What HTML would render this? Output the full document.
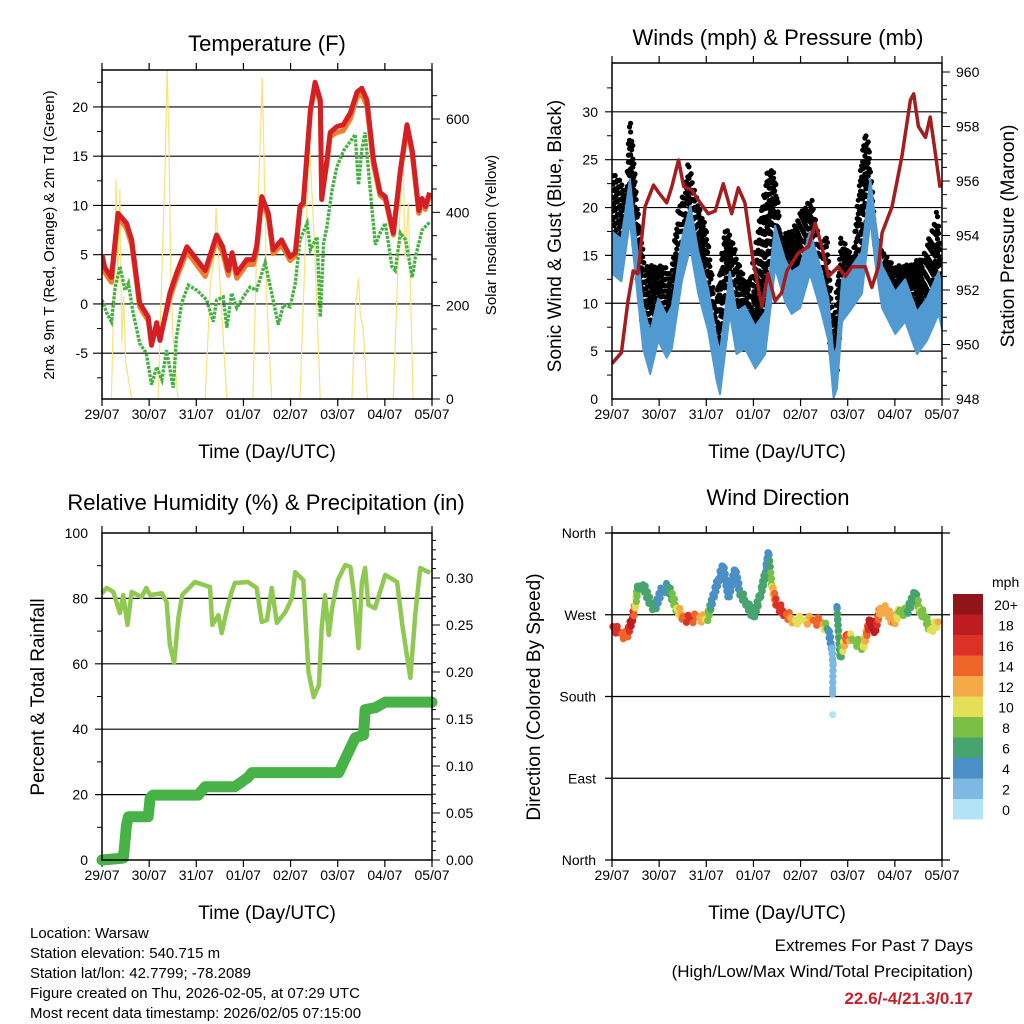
<!DOCTYPE html>
<html><head><meta charset="utf-8"><style>
html,body{margin:0;padding:0;background:#fff;}
svg{display:block;font-family:"Liberation Sans",Arial,sans-serif;}
</style></head><body>
<svg id="chart" width="1024" height="1024" viewBox="0 0 1024 1024" xmlns="http://www.w3.org/2000/svg">
<rect x="0" y="0" width="1024" height="1024" fill="#fff"/>
<g id="layer"></g>
<g font-size="22" text-anchor="middle" fill="#000">
<text x="267" y="51">Temperature (F)</text>
<text x="778" y="45">Winds (mph) &amp; Pressure (mb)</text>
<text x="266" y="510">Relative Humidity (%) &amp; Precipitation (in)</text>
<text x="778" y="505">Wind Direction</text>
</g>
<g font-size="19" text-anchor="middle">
<text x="267" y="458">Time (Day/UTC)</text>
<text x="777" y="458">Time (Day/UTC)</text>
<text x="267" y="919">Time (Day/UTC)</text>
<text x="777" y="919">Time (Day/UTC)</text>
<text transform="translate(54,235) rotate(-90)" font-size="15">2m &amp; 9m T (Red, Orange) &amp; 2m Td (Green)</text>
<text transform="translate(496,235) rotate(-90)" font-size="15">Solar Insolation (Yellow)</text>
<text transform="translate(561,236) rotate(-90)">Sonic Wind &amp; Gust (Blue, Black)</text>
<text transform="translate(1014,236) rotate(-90)">Station Pressure (Maroon)</text>
<text transform="translate(44,697) rotate(-90)">Percent &amp; Total Rainfall</text>
<text transform="translate(540,697) rotate(-90)">Direction (Colored By Speed)</text>
</g>
<g font-size="15">
<text x="30" y="938">Location: Warsaw</text>
<text x="30" y="958">Station elevation: 540.715 m</text>
<text x="30" y="978">Station lat/lon: 42.7799; -78.2089</text>
<text x="30" y="998">Figure created on Thu, 2026-02-05, at 07:29 UTC</text>
<text x="30" y="1018">Most recent data timestamp: 2026/02/05 07:15:00</text>
</g>
<g font-size="17" text-anchor="end">
<text x="973" y="951">Extremes For Past 7 Days</text>
<text x="973" y="977">(High/Low/Max Wind/Total Precipitation)</text>
<text x="973" y="1004" fill="#c8202a" font-weight="bold">22.6/-4/21.3/0.17</text>
</g>
</svg>
<script>
// ---------- data ----------
const dayLabels = ["29/07","30/07","31/07","01/07","02/07","03/07","04/07","05/07"];
const tempDays = [0,0.06,0.2,0.34,0.52,0.63,0.8,0.98,1.05,1.16,1.23,1.44,1.58,1.8,2.19,2.43,2.56,2.68,2.76,2.86,3.07,3.21,3.28,3.39,3.53,3.63,3.81,3.99,4.1,4.2,4.27,4.42,4.52,4.63,4.66,4.77,4.84,4.98,5.12,5.27,5.41,5.51,5.62,5.76,5.9,6.01,6.18,6.33,6.47,6.58,6.72,6.79,6.86,6.95];
const tempRed = [5.0,3.7,2.7,9.2,8.2,6.5,0.1,-1.3,-4.2,-1.9,-3.7,1.1,3.1,5.8,3.4,7.0,5.8,3.4,5.2,3.1,4.5,4.5,5.8,10.9,9.2,5.5,6.5,4.8,5.2,9.9,10.3,19.7,22.5,20.7,10.6,14.6,17.4,18.0,18.2,19.4,21.5,21.9,20.7,14.6,11.3,10.9,7.2,13.6,18.2,15.6,9.5,10.7,9.9,11.3];
const tempOrange = [4.6,3.2,2.2,8.8,7.7,6.0,-0.3,-1.7,-4.0,-2.3,-3.4,0.6,2.6,5.3,2.8,6.5,5.2,2.9,4.7,2.6,4.0,4.0,5.3,10.6,8.7,5.1,6.0,4.4,4.9,9.7,10.1,19.5,22.2,20.4,10.9,14.2,17.0,17.4,17.6,18.8,21.0,21.3,20.1,14.1,11.0,10.6,7.0,13.3,17.9,15.2,9.2,10.4,9.6,11.0];
const dewDays = [0,0.1,0.2,0.28,0.38,0.49,0.56,0.66,0.8,0.94,1.05,1.16,1.27,1.37,1.51,1.58,1.69,1.83,2.01,2.22,2.36,2.43,2.57,2.65,2.75,2.86,3.0,3.14,3.28,3.46,3.6,3.74,3.85,3.99,4.1,4.2,4.35,4.42,4.56,4.63,4.7,4.77,4.87,4.98,5.13,5.3,5.37,5.44,5.51,5.58,5.72,5.8,5.9,6.01,6.15,6.22,6.33,6.44,6.58,6.65,6.79,6.95];
const dewVals = [0.4,-0.9,-1.8,1.7,3.8,1.4,2.1,-0.9,-4.0,-5.0,-8.2,-6.4,-7.7,-4.7,-8.5,-3.4,0.1,1.9,1.4,0.4,-1.8,0.4,0.7,-2.4,1.1,-0.4,0.7,1.7,1.4,4.2,1.1,-2.1,-0.1,-0.3,2.1,6.5,8.2,5.5,6.8,-1.3,6.2,7.8,11.3,13.9,15.6,16.7,17.2,12.1,15.6,17.4,9.9,6.0,7.2,8.2,3.8,3.4,7.2,6.5,2.7,4.8,7.5,8.3];
const solarDays = [0,0.2,0.27,0.3,0.34,0.38,0.42,0.46,0.5,0.63,0.7,1.19,1.28,1.34,1.38,1.42,1.46,1.5,1.61,1.7,2.19,2.3,2.38,2.42,2.5,2.65,2.7,3.2,3.3,3.36,3.4,3.44,3.5,3.6,3.7,4.2,4.32,4.4,4.45,4.52,4.63,4.7,5.3,5.38,5.44,5.48,5.54,5.63,5.7,6.18,6.3,6.38,6.43,6.5,6.6,7];
const solarVals = [0,0,300,470,250,450,120,220,80,0,0,0,300,500,710,560,260,150,0,0,0,250,300,409,250,0,0,0,400,560,688,500,200,0,0,0,350,555,450,300,0,0,0,200,259,180,150,0,0,0,350,555,300,420,0,0];
const windDays = [0,0.2,0.38,0.55,0.66,0.81,0.98,1.16,1.27,1.48,1.66,1.83,2.04,2.22,2.29,2.5,2.64,2.82,3.04,3.25,3.46,3.67,3.81,3.99,4.2,4.45,4.59,4.7,4.77,4.88,5.09,5.3,5.48,5.6,5.73,6.01,6.22,6.47,6.68,6.93,7];
const windVals = [15.3,14.5,20.8,12.7,7.5,4.8,8.3,6.5,7.5,14.5,18.0,13.2,9.3,4.1,2.7,11.1,6.9,7.5,5.4,6.9,15.9,12.4,11.1,11.7,15.3,11.1,8.3,2.3,3.3,10.3,11.7,13.2,20.8,15.9,11.7,9.0,10.3,6.9,8.3,11.1,9.5];
const gustDays = [0,0.3,0.38,0.45,0.55,0.7,0.9,1.1,1.25,1.4,1.55,1.62,1.8,2.0,2.2,2.4,2.55,2.7,2.9,3.1,3.3,3.45,3.6,3.85,4.05,4.25,4.45,4.55,4.7,4.85,5.1,5.35,5.45,5.6,5.8,6.0,6.3,6.6,6.8,6.9,7];
const gustVals = [24,22,30,26,20,14,14,14,13,20,22,25,21,18,10,18,17,14,12,18,24,24,17,18,20,21,15,18,8,17,15,28,27,17,15,14,14,15,18,20,14];
const pressDays = [0,0.2,0.34,0.45,0.55,0.7,0.88,0.98,1.16,1.27,1.41,1.52,1.69,1.83,2.04,2.19,2.36,2.54,2.68,2.82,2.99,3.18,3.31,3.46,3.6,3.71,3.95,4.17,4.31,4.45,4.59,4.8,4.95,5.09,5.37,5.51,5.65,5.73,5.94,6.15,6.33,6.4,6.5,6.65,6.75,6.86,6.96];
const pressVals = [949.3,949.7,951.6,952.7,952.6,955.05,955.85,955.6,955.2,955.8,956.77,955.8,955.67,955.3,954.8,954.9,955.9,954.8,955.75,955.2,953.1,951.4,952.6,951.6,951.9,952.7,953.35,953.6,954.45,953.6,952.5,952.85,952.5,952.85,952.85,952.1,952.85,954.1,955.05,956.9,958.97,959.2,958.0,957.6,958.35,957.0,955.75];
const rhDays = [0,0.1,0.24,0.38,0.45,0.54,0.63,0.84,0.94,1.02,1.27,1.37,1.44,1.53,1.62,1.7,1.97,2.29,2.34,2.47,2.54,2.65,2.75,2.82,3.1,3.28,3.39,3.5,3.6,3.71,3.89,4.03,4.1,4.27,4.38,4.49,4.6,4.66,4.73,4.81,4.88,5.0,5.16,5.27,5.34,5.44,5.51,5.58,5.65,5.79,6.01,6.26,6.37,6.54,6.65,6.75,6.96];
const rhVals = [81.6,83.2,82,75.5,81,71.9,82,80.4,83.2,81,81.6,78.9,65.7,60.2,74,81,85,83.5,71.9,74.9,69.4,76.5,82,84.7,85,83.2,72.8,73.4,83.2,72.5,75.8,80.1,88,85.6,57.5,49.8,53.5,71,81,68.8,77,85.6,90.2,89.6,82,64.8,84.7,89.3,78,77,87.2,85,71.9,55.7,75.8,89.3,87.8];
const rainDays = [0,0.45,0.47,0.52,0.56,0.98,1.02,1.08,2.04,2.19,2.82,3.1,3.18,5.02,5.37,5.55,5.58,5.8,6.01,7];
const rainVals = [0,0.002,0.011,0.037,0.046,0.046,0.066,0.069,0.069,0.078,0.078,0.088,0.093,0.093,0.13,0.133,0.16,0.162,0.168,0.168];
const dirDays = [0.02,0.17,0.31,0.42,0.49,0.55,0.66,0.81,0.91,1.05,1.19,1.37,1.51,1.65,1.82,2.01,2.15,2.25,2.36,2.47,2.61,2.72,2.86,3.0,3.14,3.25,3.32,3.39,3.49,3.67,3.85,4.06,4.27,4.45,4.59,4.66,4.69,4.68,4.68,4.77,4.81,4.84,4.98,5.12,5.33,5.47,5.58,5.69,5.83,5.97,6.11,6.25,6.43,6.53,6.64,6.75,6.92];
const dirVals = [257,250,246,264,279,301,303,283,277,297,301,277,268,264,268,264,290,308,323,290,319,294,283,268,290,315,338,301,281,272,264,264,264,261,253,235,217,185,160,279,246,224,248,242,235,264,253,277,275,261,275,272,294,275,268,253,262];
const dirSpeeds = [16,16,14,20,12,7,7,6,7,4,6,10,15,17,14,11,4,4,5,6,5,6,6,6,6,7,4,10,17,16,12,11,14,15,6,4,2,2,0,5,8,6,16,8,10,19,20,12,13,14,9,8,6,10,9,10,12];
const speedLevels = ["0","2","4","6","8","10","12","14","16","18","20+"];
const speedColors = ["#b3e3f7","#7db9e3","#4a8fc6","#48a46f","#7ac046","#e3e057","#f5a947","#ef6428","#db3127","#bd1c22","#8f1519"];

// ---------- helpers ----------
const NS="http://www.w3.org/2000/svg";
const layer=document.getElementById('layer');
function mk(tag,attrs,name,parent){
  const el=document.createElementNS(NS,tag);
  for(const k in attrs) el.setAttribute(k,attrs[k]);
  
  
  (parent||layer).appendChild(el);
  return el;
}
function txt(x,y,s,anchor,size,name,parent){
  const t=mk('text',{x:x,y:y,'text-anchor':anchor,'font-size':size},name,parent);
  t.textContent=s;return t;
}
function axis(x0,x1,y0,y1,v0,v1){return {x0,x1,y0,y1,v0,v1,
  x:d=>x0+d/7*(x1-x0), y:v=>y1-(v-v0)/(v1-v0)*(y1-y0)};}
function pathD(ax,days,vals,yf){return days.map((d,i)=>(i?'L':'M')+ax.x(d).toFixed(1)+','+yf(vals[i]).toFixed(1)).join('');}
function clip(id,x,y,w,h){const c=mk('clipPath',{id:id},id); mk('rect',{x:x,y:y,width:w,height:h},'clip-rect',c); return 'url(#'+id+')';}
function frame(px,name){
  const g=mk('g',{},name+'-axes');
  for(let i=0;i<=7;i++){const x=px.x0+i*(px.x1-px.x0)/7;
    mk('line',{x1:x,y1:px.y1,x2:x,y2:px.y1+7,stroke:'#000','stroke-width':1.2},'x-tick',g);
    mk('line',{x1:x,y1:px.y0,x2:x,y2:px.y0-7,stroke:'#000','stroke-width':1.2},'x-tick-top',g);
    txt(x,px.y1+20,dayLabels[i],'middle',14,'x-tick-label',g);}
  return g;
}
function border(px,name){mk('rect',{x:px.x0,y:px.y0,width:px.x1-px.x0,height:px.y1-px.y0,fill:'none',stroke:'#000','stroke-width':1.5},name+'-border');}
function interp(days,vals,d){for(let i=1;i<days.length;i++){if(d<=days[i]){const t=(d-days[i-1])/(days[i]-days[i-1]);return vals[i-1]+t*(vals[i]-vals[i-1]);}}return vals[vals.length-1];}

// ---------- Panel 1: temperature ----------
const p1=axis(102,432,70,399,-9.65,23.75);
const s1=(v)=>399-v/705*(399-70);
frame(p1,'temp');
[-5,0,5,10,15,20].forEach(v=>{mk('line',{x1:93,x2:432,y1:p1.y(v),y2:p1.y(v),stroke:'#000','stroke-width':1.2},'temp-gridline');
  txt(88,p1.y(v)+5,String(v),'end',14,'temp-y-tick-label');});
for(let v=-7.5;v<=22.5;v+=5) mk('line',{x1:97,x2:102,y1:p1.y(v),y2:p1.y(v),stroke:'#000'},'temp-minor-tick');
[0,200,400,600].forEach(v=>{mk('line',{x1:432,x2:440,y1:s1(v),y2:s1(v),stroke:'#000'},'solar-tick');
  txt(446,s1(v)+5,String(v),'start',14,'solar-tick-label');});
for(let v=50;v<700;v+=50) if(v%200) mk('line',{x1:432,x2:437,y1:s1(v),y2:s1(v),stroke:'#000'},'solar-minor-tick');
const c1=clip('clip1',102,70,330,329);
mk('path',{d:pathD(p1,solarDays,solarVals,s1),fill:'none',stroke:'#f9e27a','stroke-width':1.2,'clip-path':c1},'solar-line');
mk('path',{d:pathD(p1,dewDays,dewVals,p1.y),fill:'none',stroke:'#46b043','stroke-width':3.4,'stroke-dasharray':'3 1.2','clip-path':c1},'dewpoint-line');
mk('path',{d:pathD(p1,tempDays,tempOrange,p1.y),fill:'none',stroke:'#f07c2e','stroke-width':5,'stroke-linejoin':'round','clip-path':c1},'temp-9m-line');
mk('path',{d:pathD(p1,tempDays,tempRed,p1.y),fill:'none',stroke:'#d42024','stroke-width':5,'stroke-linejoin':'round','clip-path':c1},'temp-2m-line');
border(p1,'temp');

// ---------- Panel 2: winds ----------
const p2=axis(612,942,63,399,0,35.1);
const pr=(v)=>399-(v-948)*27.25;
frame(p2,'winds');
[5,10,15,20,25,30].forEach(v=>mk('line',{x1:605,x2:942,y1:p2.y(v),y2:p2.y(v),stroke:'#000','stroke-width':1.2},'wind-gridline'));
[0,5,10,15,20,25,30].forEach(v=>txt(598,p2.y(v)+5,String(v),'end',14,'wind-tick-label'));
for(let v=2.5;v<35;v+=5) mk('line',{x1:607,x2:612,y1:p2.y(v),y2:p2.y(v),stroke:'#000'},'wind-minor-tick');
[948,950,952,954,956,958,960].forEach(v=>{mk('line',{x1:942,x2:950,y1:pr(v),y2:pr(v),stroke:'#000'},'pressure-tick');
  txt(956,pr(v)+5,String(v),'start',14,'pressure-tick-label');});
for(let v=948.5;v<960.3;v+=0.5) if(v%2) mk('line',{x1:942,x2:947,y1:pr(v),y2:pr(v),stroke:'#000'},'pressure-minor-tick');
const c2=clip('clip2',612,63,330,336);
const gustG=mk('g',{'clip-path':c2},'gust-dots');
let n=0;
for(let px=613;px<=941;px+=1.1){const d=(px-612)/330*7;const w=interp(windDays,windVals,d);const g=interp(gustDays,gustVals,d);
  const lo=w-1, span=Math.max(0.5,g-lo), cnt=Math.max(1,Math.round(span/1.1));
  for(let k=0;k<cnt;k++){n++;const f=((n*0.6180339)%1);
    mk('circle',{cx:px,cy:p2.y(lo+f*span),r:2.6,fill:'#000'},'gust-dot',gustG);}}
const upD=windDays.map((d,i)=>(i?'L':'M')+p2.x(d).toFixed(1)+','+p2.y(windVals[i]+2.2).toFixed(1)).join('');
const loD=windDays.slice().reverse().map((d,i,a)=>'L'+p2.x(d).toFixed(1)+','+p2.y(windVals[windDays.length-1-i]-2.2).toFixed(1)).join('');
mk('path',{d:upD+loD+'Z',fill:'#5199d1',stroke:'#5199d1','stroke-width':2,'stroke-linejoin':'round','clip-path':c2},'wind-band');
mk('path',{d:pathD(p2,pressDays,pressVals,pr),fill:'none',stroke:'#a31d1f','stroke-width':3.5,'stroke-linejoin':'round','clip-path':c2},'pressure-line');
border(p2,'winds');

// ---------- Panel 3: humidity ----------
const p3=axis(102,432,533,860,0,100);
const rn=(v)=>860-v*940;
frame(p3,'humidity');
[20,40,60,80].forEach(v=>mk('line',{x1:95,x2:432,y1:p3.y(v),y2:p3.y(v),stroke:'#000','stroke-width':1.2},'humidity-gridline'));
[0,20,40,60,80,100].forEach(v=>txt(88,p3.y(v)+5,String(v),'end',14,'humidity-tick-label'));
for(let v=10;v<100;v+=20) mk('line',{x1:97,x2:102,y1:p3.y(v),y2:p3.y(v),stroke:'#000'},'humidity-minor-tick');
["0.00","0.05","0.10","0.15","0.20","0.25","0.30"].forEach(s=>{const v=parseFloat(s);mk('line',{x1:432,x2:440,y1:rn(v),y2:rn(v),stroke:'#000'},'rain-tick');
  txt(446,rn(v)+5,s,'start',14,'rain-tick-label');});
for(let v=0.01;v<0.345;v+=0.01) mk('line',{x1:432,x2:436,y1:rn(v),y2:rn(v),stroke:'#000'},'rain-minor-tick');
const c3=clip('clip3',96,527,342,340);
mk('path',{d:pathD(p3,rhDays,rhVals,p3.y),fill:'none',stroke:'#90c951','stroke-width':4.5,'stroke-linejoin':'round','clip-path':c3},'humidity-line');
mk('path',{d:pathD(p3,rainDays,rainVals,rn),fill:'none',stroke:'#47b347','stroke-width':11,'stroke-linejoin':'round','stroke-linecap':'round','clip-path':c3},'rain-line');
border(p3,'humidity');

// ---------- Panel 4: wind direction ----------
const p4=axis(612,942,533,860,0,360);
frame(p4,'direction');
[["North",0],["East",90],["South",180],["West",270],["North",360]].forEach(([s,v])=>{
  mk('line',{x1:605,x2:950,y1:p4.y(v),y2:p4.y(v),stroke:'#000','stroke-width':1.2},'direction-gridline');
  txt(596,p4.y(v)+5,s,'end',14,'direction-tick-label');});
function colorFor(s){return speedColors[Math.max(0,Math.min(10,Math.floor(s/2)))];}
const dg=mk('g',{},'direction-points');
for(let i=0;i<dirDays.length;i++){
  const x=p4.x(dirDays[i]),y=p4.y(dirVals[i]);
  mk('circle',{cx:x,cy:y,r:3.6,fill:colorFor(dirSpeeds[i])},'direction-point',dg);
  if(i<dirDays.length-1 && Math.abs(dirDays[i+1]-dirDays[i])<0.3 && Math.abs(dirVals[i+1]-dirVals[i])<60 && dirSpeeds[i+1]>0){
    const x2=p4.x(dirDays[i+1]),y2=p4.y(dirVals[i+1]);
    const m=Math.ceil(Math.hypot(x2-x,y2-y)/2);
    for(let k=1;k<m;k++){const t=k/m;
      mk('circle',{cx:x+t*(x2-x),cy:y+t*(y2-y)+((k%3)-1)*4,r:3.6,fill:colorFor(dirSpeeds[i]+t*(dirSpeeds[i+1]-dirSpeeds[i]))},'direction-point',dg);}
  }
}
border(p4,'direction');
// colorbar
const cb=mk('g',{},'speed-colorbar');
txt(992,587,'mph','start',14,'colorbar-title',cb);
for(let i=0;i<speedLevels.length;i++){
  const y=594+(10-i)*20.5;
  mk('rect',{x:953,y:y,width:30,height:20.5,fill:speedColors[i]},'colorbar-swatch-'+speedLevels[i],cb);
  txt(1006,y+16,speedLevels[i],'middle',14,'colorbar-label',cb);
}
</script>
</body></html>
